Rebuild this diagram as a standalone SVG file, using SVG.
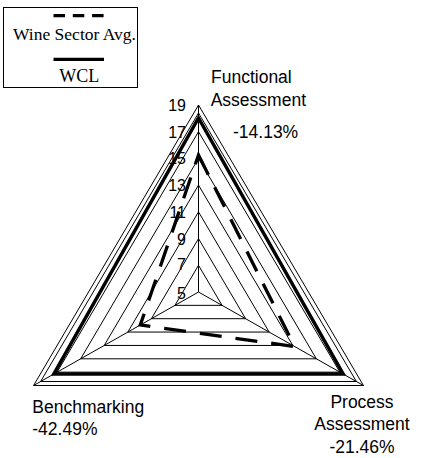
<svg xmlns="http://www.w3.org/2000/svg" width="425" height="458" viewBox="0 0 425 458">
<style>
.bg{fill:#fff}
.ax{font-family:"Liberation Sans",Arial,sans-serif;font-size:16px;fill:#000;text-anchor:end}
.cat{font-family:"Liberation Sans",Arial,sans-serif;font-size:17.5px;fill:#000}
.leg{font-family:"Liberation Serif","Times New Roman",serif;font-size:17.5px;fill:#000;text-anchor:middle}
.grid{fill:none;stroke:#000;stroke-width:1}
.wcl{fill:none;stroke:#000;stroke-width:3.5;stroke-linejoin:miter}
.avg{fill:none;stroke:#000;stroke-width:3.3;stroke-dasharray:22 14}
</style>
<rect class="bg" x="0" y="0" width="425" height="458"/>
<g id="legend">
  <rect x="3.5" y="7.5" width="134" height="80" fill="#fff" stroke="#000" stroke-width="1"/>
  <line x1="53.5" y1="15.7" x2="104" y2="15.7" stroke="#000" stroke-width="3.3" stroke-dasharray="11.5 7.8"/>
  <text class="leg" x="74.5" y="39.5">Wine Sector Avg.</text>
  <line x1="53.5" y1="59.3" x2="104" y2="59.3" stroke="#000" stroke-width="3.3"/>
  <text class="leg" x="79.3" y="81.7" style="font-size:18px">WCL</text>
</g>
<g id="axis-labels">
  <text class="ax" x="186" y="111">19</text>
  <text class="ax" x="186" y="137.7">17</text>
  <text class="ax" x="186" y="164.4">15</text>
  <text class="ax" x="186" y="191.1">13</text>
  <text class="ax" x="186" y="217.9">11</text>
  <text class="ax" x="186" y="244.6">9</text>
  <text class="ax" x="186" y="270">7</text>
  <text class="ax" x="186" y="298.5">5</text>
</g>
<g id="grid">
  <polygon class="grid" points="198.5,265.3 222.05,305.35 174.95,305.35"/>
  <polygon class="grid" points="198.5,238.6 245.6,318.7 151.4,318.7"/>
  <polygon class="grid" points="198.5,211.9 269.15,332.05 127.85,332.05"/>
  <polygon class="grid" points="198.5,185.1 292.79,345.45 104.21,345.45"/>
  <polygon class="grid" points="198.5,158.4 316.34,358.8 80.66,358.8"/>
  <polygon class="grid" points="198.5,131.7 339.88,372.15 57.12,372.15"/>
  <polygon class="grid" points="198.5,113 356.38,381.5 40.62,381.5"/>
  <polygon class="grid" points="198.5,105 363.43,385.5 33.57,385.5"/>
  <line class="grid" x1="198.5" y1="292" x2="198.5" y2="105"/>
  <line class="grid" x1="198.5" y1="292" x2="363.43" y2="385.5"/>
  <line class="grid" x1="198.5" y1="292" x2="33.57" y2="385.5"/>
</g>
<g id="connectors">
  <polygon id="series-wcl" class="wcl" points="198.5,118 343.15,374 53.85,374"/>
  <polygon id="series-avg" class="avg" points="198.5,155 294.64,346.5 140.29,325"/>
</g>
<g id="node-functional">
  <text class="cat" x="211" y="83">Functional</text>
  <text class="cat" x="210.7" y="105.5">Assessment</text>
  <text class="cat" x="233" y="137.5">-14.13%</text>
</g>
<g id="node-process">
  <text class="cat" x="362" y="408.3" text-anchor="middle">Process</text>
  <text class="cat" x="362" y="430" text-anchor="middle">Assessment</text>
  <text class="cat" x="362" y="453" text-anchor="middle">-21.46%</text>
</g>
<g id="node-benchmarking">
  <text class="cat" x="32.3" y="413">Benchmarking</text>
  <text class="cat" x="32.3" y="435">-42.49%</text>
</g>
</svg>
